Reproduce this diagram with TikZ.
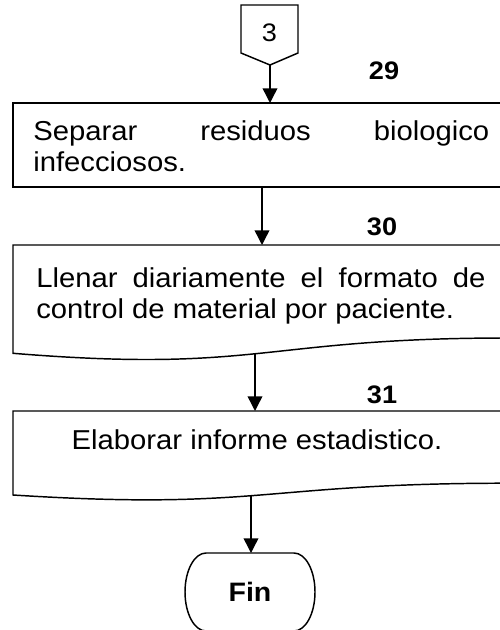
\documentclass[tikz,border=0pt]{standalone}
\usepackage{fontspec}
\setmainfont{Liberation Sans}[FakeStretch=1.07]
\usepackage{tikz}
\usetikzlibrary{arrows.meta}

\begin{document}
\begin{tikzpicture}[x=0.75pt,y=0.75pt,yscale=-1,xscale=1,
  linea/.style={line width=1.1pt},
  flecha/.style={line width=1.1pt,-{Triangle[length=11pt,width=11pt]}},
  texto/.style={inner sep=0pt,font=\fontsize{20.5}{23.25}\selectfont},
  numero/.style={inner sep=0pt,font=\fontsize{19}{22}\selectfont\bfseries},
  conector/.style={inner sep=0pt,font=\fontsize{19}{22}\selectfont},
  fin/.style={inner sep=0pt,font=\fontsize{20}{24}\selectfont\bfseries}]

\useasboundingbox (0,0) rectangle (499,630);

\coordinate (s3) at (270,65);
\coordinate (e29) at (270,103);
\coordinate (s29) at (262,187);
\coordinate (e30) at (262,245);
\coordinate (s30) at (255,354);
\coordinate (e31) at (255,411);
\coordinate (s31) at (251,496);
\coordinate (efin) at (251,553);



\draw [linea] (241,5) -- (298,5) -- (298,53) -- (270,65) -- (241,53) -- cycle ;

\draw [linea] (13,103) -- (508,103) -- (508,187) -- (13,187) -- cycle ;

\draw [linea] (13,245) -- (508,245) -- (508,338) .. controls (260.5,338) and (260.5,373.5) .. (13,353.3) -- cycle ;

\draw [linea] (13,411) -- (508,411) -- (508,483.2) .. controls (260.5,483.2) and (260.5,510.7) .. (13,495) -- cycle ;

\draw [linea] (206,553) -- (294,553) arc [start angle=-90, end angle=90, x radius=21, y radius=39] -- (206,631) arc [start angle=90, end angle=270, x radius=21, y radius=39] -- cycle ;



\draw [flecha] (s3) -- (e29) ;

\draw [flecha] (s29) -- (e30) ;

\draw [flecha] (s30) -- (e31) ;

\draw [flecha] (s31) -- (efin) ;



\node [conector] (n3) at (269.5,33) {3};

\node [numero] (n29) at (384,71) {29};

\node [numero] (n30) at (382,227) {30};

\node [numero] (n31) at (382,394.5) {31};

\node [texto, anchor=north west, text width=342pt, align=justify] (t29) at (33,120) {Separar residuos biologico\linebreak infecciosos.};

\node [texto, anchor=north west, text width=337pt, align=justify] (t30) at (36,267) {Llenar diariamente el formato de\linebreak control de material por paciente.};

\node [texto] (t31) at (257,440) {Elaborar informe estadistico.};

\node [fin] (nfin) at (250,592) {Fin};


\end{tikzpicture}
\end{document}
